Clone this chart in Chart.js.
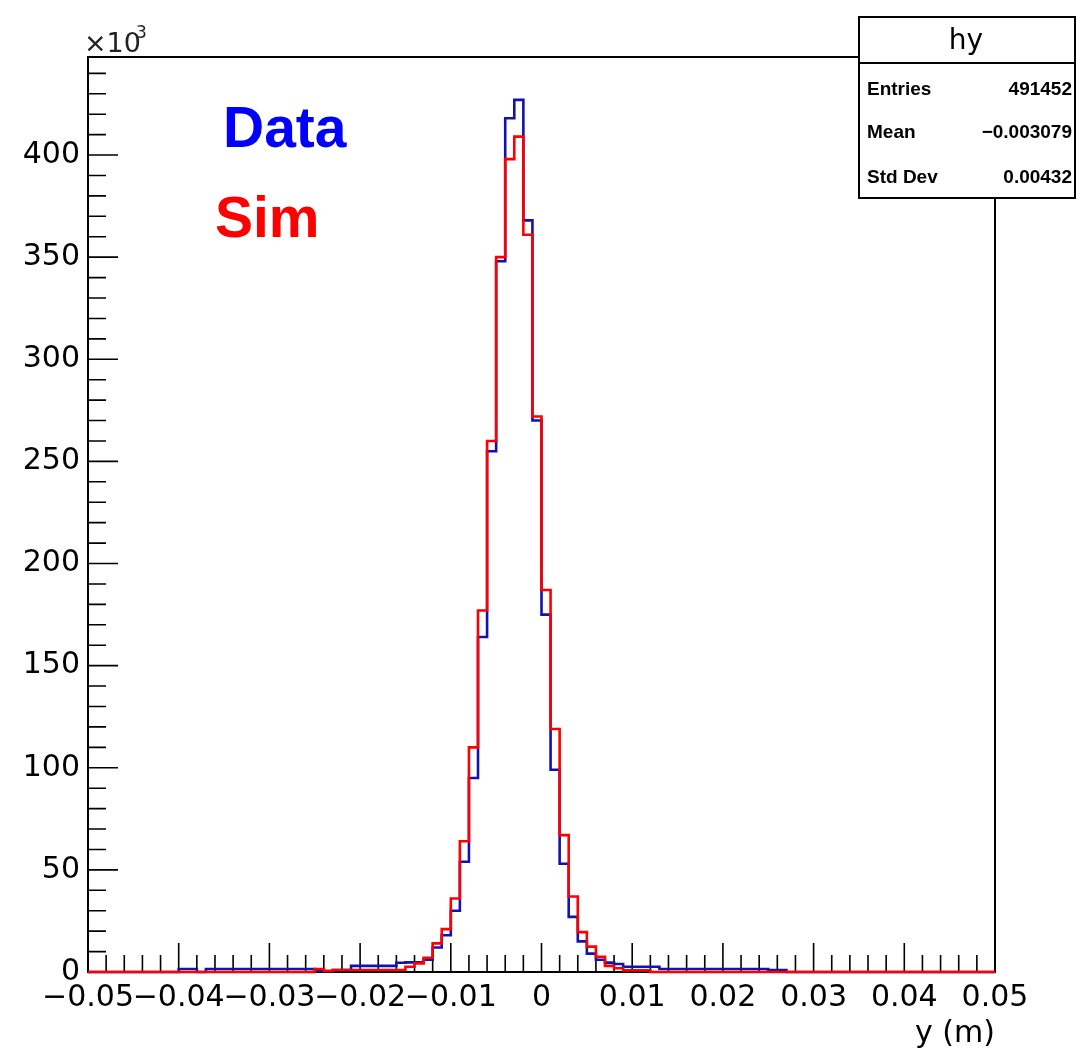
<!DOCTYPE html>
<html>
<head>
<meta charset="utf-8">
<script src="https://cdn.jsdelivr.net/npm/chart.js@4.4.0/dist/chart.umd.min.js"></script>
<style>
  html, body { margin: 0; padding: 0; background: #fff; }
  #wrap { width: 1077px; height: 1055px; }
</style>
</head>
<body>
<div id="wrap"><canvas id="hist" width="1077" height="1055"></canvas></div>
<script>
// binning of the y histogram (metres)
const xMin = -0.05, xMax = 0.05, nBins = 100;

// bin contents in units of 10^3 (bin 0 = [-0.050,-0.049))
const dataCounts = [
  0, 0, 0, 0, 0, 0, 0, 0, 0, 0,
  1.5, 1.5, 0, 1.5, 1.5, 1.5, 1.5, 1.5, 1.5, 1.5,
  1.5, 1.5, 1.5, 1.5, 1.5, 0.5, 0.5, 1, 1, 3,
  3, 3, 3, 3, 4.5, 4.7, 4.7, 6, 12, 18,
  30, 54, 95, 164, 255, 348, 418, 427, 368, 270,
  175, 99, 53, 27, 15, 9, 6, 4.6, 3.9, 2.6,
  2.6, 2.6, 2.6, 1.5, 1.5, 1.5, 1.5, 1.5, 1.5, 1.5,
  1.5, 1.5, 1.5, 1.5, 1.5, 1, 1, 0, 0, 0,
  0, 0, 0, 0, 0, 0, 0, 0, 0, 0,
  0, 0, 0, 0, 0, 0, 0, 0, 0, 0
];
const simCounts = [
  0, 0, 0, 0, 0, 0, 0, 0, 0, 0,
  0, 0, 0, 0, 0, 0, 0, 0, 0, 0,
  0, 0, 0, 0, 0, 1.5, 0.5, 1, 1, 1,
  1, 1, 1, 1, 1, 2.6, 4.2, 7, 14, 21,
  36, 64, 110, 177, 260, 350, 398, 409, 361, 272,
  187, 119, 67, 37, 19.5, 12.4, 7.5, 3, 1.8, 0.8,
  0.8, 0.8, 0, 0, 0, 0, 0, 0, 0, 0,
  0, 0, 0, 0, 0, 0, 0, 0, 0, 0,
  0, 0, 0, 0, 0, 0, 0, 0, 0, 0,
  0, 0, 0, 0, 0, 0, 0, 0, 0, 0
];

const yMax = 448;
const xTickValues = [-0.05, -0.04, -0.03, -0.02, -0.01, 0, 0.01, 0.02, 0.03, 0.04, 0.05];
const yTickValues = [0, 50, 100, 150, 200, 250, 300, 350, 400];
const histTitle = 'hy';
const statsLabels = ['Entries', 'Mean', 'Std Dev'];
const statsValues = ['491452', '\u22120.003079', '0.00432'];

// histogram outline: one point per lower bin edge plus the last upper edge
function toPoints(counts) {
  const w = (xMax - xMin) / nBins;
  const pts = counts.map((c, i) => ({ x: xMin + i * w, y: c }));
  pts.push({ x: xMax, y: counts[counts.length - 1] });
  return pts;
}

function fmtX(v) {
  const r = Math.round(v * 100) / 100;
  if (r === 0) return '0';
  return (r < 0 ? '\u2212' : '') + Math.abs(r).toFixed(2);
}

const rootFrame = {
  id: 'rootFrame',
  beforeDatasetsDraw(chart) {
    const { ctx, chartArea: a, scales: { x, y } } = chart;
    ctx.save();
    ctx.strokeStyle = '#000';
    ctx.lineWidth = 2;
    ctx.strokeRect(a.left, a.top, a.right - a.left, a.bottom - a.top);
    ctx.lineWidth = 1.6;
    ctx.beginPath();
    for (let k = 0; k <= 50; k++) {
      const px = x.getPixelForValue(xMin + k * 0.002);
      const len = k % 5 === 0 ? 29 : 17;
      ctx.moveTo(px, a.bottom);
      ctx.lineTo(px, a.bottom - len);
    }
    for (let v = 0; v <= 440; v += 10) {
      const py = y.getPixelForValue(v);
      const len = v % 50 === 0 ? 30 : 18;
      ctx.moveTo(a.left, py);
      ctx.lineTo(a.left + len, py);
    }
    ctx.stroke();
    ctx.restore();
  },
  afterDraw(chart) {
    const { ctx } = chart;
    ctx.save();
    // exponent of the y axis
    ctx.fillStyle = '#222';
    ctx.textAlign = 'left';
    ctx.textBaseline = 'alphabetic';
    ctx.font = '27px "DejaVu Sans"';
    ctx.fillText('\u00d710', 84, 52);
    ctx.font = '17px "DejaVu Sans"';
    ctx.fillText('3', 136, 38);

    // legend text
    ctx.font = 'bold 57px "Liberation Sans"';
    ctx.fillStyle = '#0000ff';
    ctx.fillText(chart.data.datasets[0].label, 223, 147);
    ctx.fillStyle = '#ff0000';
    ctx.fillText(chart.data.datasets[1].label, 215, 237);

    // stats box
    ctx.fillStyle = '#fff';
    ctx.strokeStyle = '#000';
    ctx.lineWidth = 2;
    ctx.fillRect(859, 17, 216, 181);
    ctx.strokeRect(859, 17, 216, 181);
    ctx.beginPath();
    ctx.moveTo(859, 63);
    ctx.lineTo(1075, 63);
    ctx.stroke();
    ctx.fillStyle = '#000';
    ctx.textAlign = 'center';
    ctx.font = '28px "DejaVu Sans"';
    ctx.fillText(histTitle, 966, 49);
    ctx.font = 'bold 19px "Liberation Sans"';
    const rows = [95, 138, 183];
    statsLabels.forEach((lab, i) => {
      ctx.textAlign = 'left';
      ctx.fillText(lab, 867, rows[i]);
      ctx.textAlign = 'right';
      ctx.fillText(statsValues[i], 1072, rows[i]);
    });
    ctx.restore();
  }
};

const tickFont = { family: 'DejaVu Sans', size: 30 };

new Chart(document.getElementById('hist'), {
  type: 'line',
  data: {
    datasets: [
      {
        label: 'Data',
        data: toPoints(dataCounts),
        borderColor: '#1212b0',
        borderWidth: 2.6,
        stepped: true,
        pointRadius: 0,
        fill: false,
        borderJoinStyle: 'miter',
        clip: 4,
        order: 2
      },
      {
        label: 'Sim',
        data: toPoints(simCounts),
        borderColor: '#ff0000',
        borderWidth: 2.6,
        stepped: true,
        pointRadius: 0,
        fill: false,
        borderJoinStyle: 'miter',
        clip: 4,
        order: 1
      }
    ]
  },
  options: {
    responsive: false,
    animation: false,
    layout: { padding: { top: 57, right: 82, left: 0, bottom: 0 } },
    plugins: { legend: { display: false }, tooltip: { enabled: false } },
    scales: {
      x: {
        type: 'linear',
        min: xMin,
        max: xMax,
        grid: { display: false, drawTicks: false },
        border: { display: false },
        afterBuildTicks: s => { s.ticks = xTickValues.map(v => ({ value: v })); },
        ticks: {
          autoSkip: false,
          maxRotation: 0,
          padding: 8,
          color: '#000',
          font: tickFont,
          callback: fmtX
        },
        title: {
          display: true,
          text: 'y (m)',
          align: 'end',
          color: '#000',
          font: tickFont,
          padding: { top: 0, bottom: 3 }
        },
        afterFit: s => { s.height = 83; }
      },
      y: {
        type: 'linear',
        min: 0,
        max: yMax,
        grid: { display: false, drawTicks: false },
        border: { display: false },
        afterBuildTicks: s => { s.ticks = yTickValues.map(v => ({ value: v })); },
        ticks: {
          autoSkip: false,
          padding: 8,
          color: '#000',
          font: tickFont
        },
        afterFit: s => { s.width = 88; }
      }
    }
  },
  plugins: [rootFrame]
});
</script>
</body>
</html>
